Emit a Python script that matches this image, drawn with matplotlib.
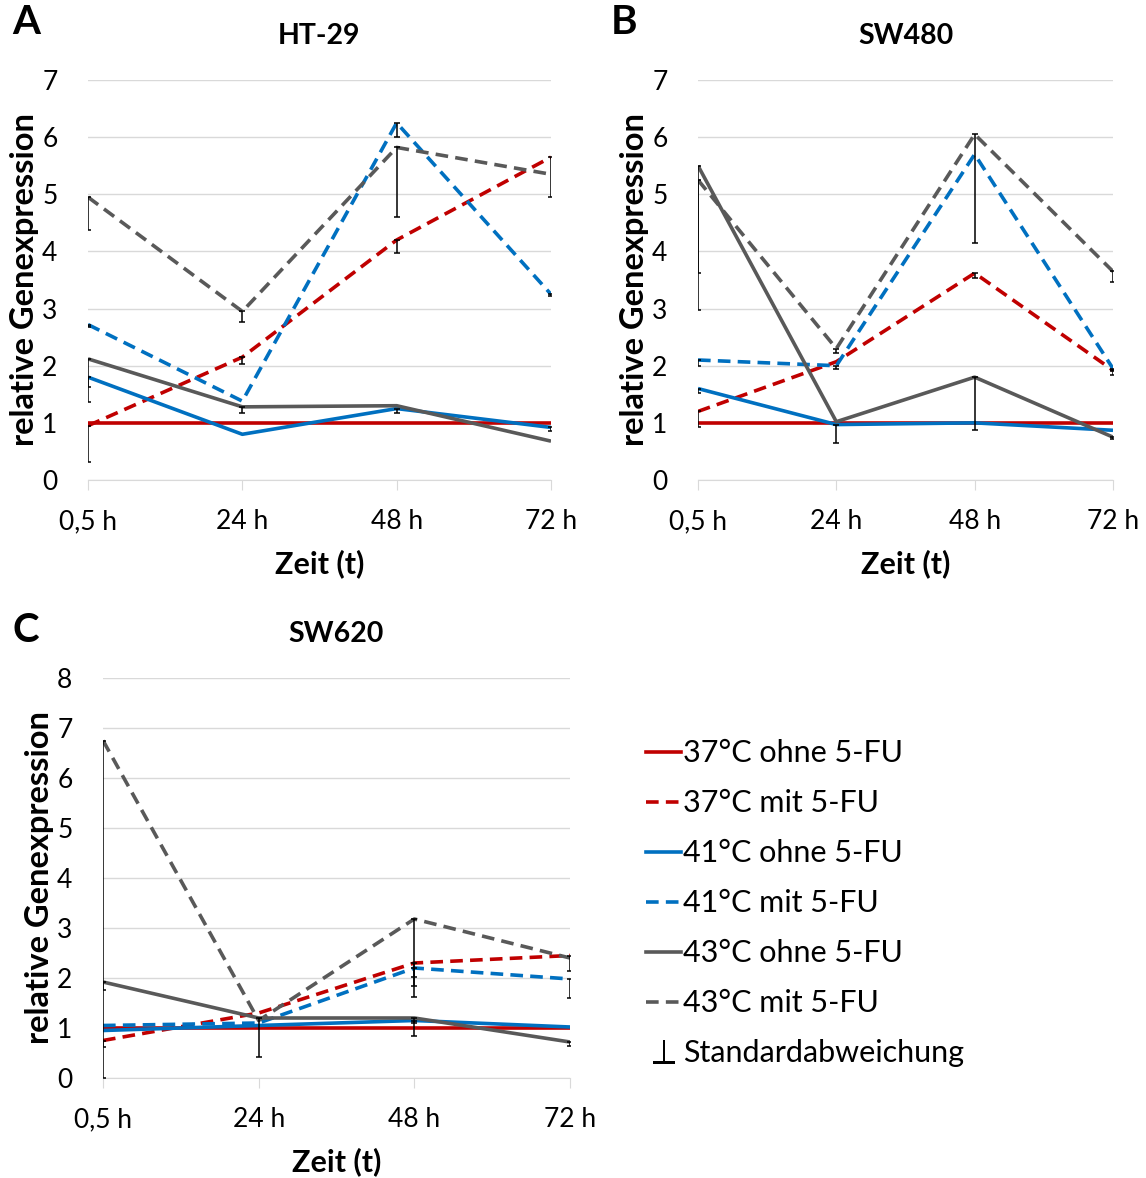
import matplotlib
matplotlib.use("Agg")
import matplotlib.pyplot as plt
from matplotlib.lines import Line2D
import numpy as np

plt.rcParams['font.family'] = ['Lato', 'DejaVu Sans']

zeiten = ['0,5 h', '24 h', '48 h', '72 h']
serien = ['37°C ohne 5-FU', '37°C mit 5-FU', '41°C ohne 5-FU',
          '41°C mit 5-FU', '43°C ohne 5-FU', '43°C mit 5-FU']

# HT-29
ht29 = [
    [1.0, 1.0, 1.0, 1.0],
    [0.95, 2.15, 4.2, 5.65],
    [1.8, 0.8, 1.25, 0.92],
    [2.72, 1.38, 6.25, 3.25],
    [2.12, 1.28, 1.3, 0.68],
    [4.95, 2.95, 5.82, 5.35],
]
ht29_sd = [
    [0, 0, 0, 0],
    [0.63, 0.12, 0.23, 0.7],
    [0.17, 0, 0.08, 0.07],
    [0.05, 0, 0.25, 0.03],
    [0.75, 0.11, 0, 0],
    [0.57, 0.18, 1.22, 0],
]

# SW480
sw480 = [
    [1.0, 1.0, 1.0, 1.0],
    [1.2, 2.07, 3.62, 1.92],
    [1.6, 0.97, 1.0, 0.87],
    [2.1, 2.0, 5.7, 1.95],
    [5.5, 1.02, 1.8, 0.75],
    [5.25, 2.3, 6.05, 3.65],
]
sw480_sd = [
    [0, 0, 0, 0],
    [0.27, 0, 0.08, 0.08],
    [0.08, 0.32, 0, 0],
    [0.1, 0.05, 0, 0.05],
    [1.88, 0, 0.92, 0.03],
    [2.28, 0.08, 1.9, 0.18],
]

# SW620
sw620 = [
    [1.0, 1.0, 1.0, 1.0],
    [0.75, 1.3, 2.3, 2.45],
    [0.95, 1.05, 1.15, 1.02],
    [1.05, 1.1, 2.2, 1.98],
    [1.92, 1.2, 1.2, 0.72],
    [6.75, 1.15, 3.18, 2.4],
]
sw620_sd = [
    [0, 0, 0, 0],
    [0.12, 0, 0.27, 0.3],
    [0, 0, 0.3, 0],
    [0, 0, 0.35, 0.38],
    [0.16, 0.77, 0.1, 0.07],
    [6.75, 0, 1.55, 0],
]

farben = ['#C00000', '#C00000', '#0070C0', '#0070C0', '#595959', '#595959']
stile = ['-', (0, (3.5, 2)), '-', (0, (3.5, 2)), '-', (0, (3.5, 2))]

W, H = 1146, 1178
fig = plt.figure(figsize=(W / 100, H / 100), dpi=100)


def px_axes(x0, x1, y_top, y_bot):
    return fig.add_axes([x0 / W, 1 - y_bot / H, (x1 - x0) / W, (y_bot - y_top) / H])


def panel(ax, werte, sd, titel, ymax):
    x = np.arange(len(zeiten))
    for i in range(len(serien)):
        ax.plot(x, werte[i], color=farben[i], linestyle=stile[i], lw=2.6,
                label=serien[i], zorder=2 + i, solid_capstyle='butt')
    for i in range(len(serien)):
        y = np.array(werte[i])
        e = np.array(sd[i])
        m = e > 0
        if m.any():
            ax.errorbar(x[m], y[m], yerr=[e[m], np.zeros(m.sum())], fmt='none',
                        ecolor='black', elinewidth=1.1, capsize=2.5, capthick=1.1,
                        zorder=10)
    ax.set_xlim(0, 3)
    ax.set_ylim(0, ymax)
    ax.set_yticks(range(ymax + 1))
    ax.set_xticks(x)
    ax.set_xticklabels(zeiten)
    ax.grid(axis='y', color='#D9D9D9', lw=1)
    ax.set_axisbelow(True)
    for s in ['top', 'right', 'left']:
        ax.spines[s].set_visible(False)
    ax.spines['bottom'].set_color('#D9D9D9')
    ax.tick_params(axis='y', length=0, pad=22, labelsize=19)
    ax.tick_params(axis='x', length=7, color='#D9D9D9', pad=14, labelsize=19)
    ax.set_xlabel('Zeit (t)', fontsize=22, fontweight='bold', labelpad=11)
    ax.set_ylabel('relative Genexpression', fontsize=23.5, fontweight='bold', labelpad=2)
    ax.set_title(titel, fontsize=20.5, fontweight='bold', pad=26)


axA = px_axes(88, 551, 80, 480)
panel(axA, ht29, ht29_sd, 'HT-29', 7)
axB = px_axes(698, 1113, 80, 480)
panel(axB, sw480, sw480_sd, 'SW480', 7)
axC = px_axes(103, 570, 678, 1078)
panel(axC, sw620, sw620_sd, 'SW620', 8)

fig.text(26 / W, 1 - 23 / H, 'A', fontsize=29, fontweight='bold', ha='center', va='center')
fig.text(624 / W, 1 - 23 / H, 'B', fontsize=29, fontweight='bold', ha='center', va='center')
fig.text(26 / W, 1 - 630 / H, 'C', fontsize=29, fontweight='bold', ha='center', va='center')

handles = [Line2D([], [], color=farben[i], linestyle=stile[i], lw=2.6) for i in range(6)]
handles.append(Line2D([], [], linestyle='none', marker='$\\perp$', color='black',
                      markersize=17, markeredgewidth=0))
labels = serien + ['Standardabweichung']
fig.legend(handles, labels, loc='upper left', bbox_to_anchor=(634 / W, 1 - 727 / H),
           frameon=False, fontsize=22, handlelength=1.15, handletextpad=0.06,
           labelspacing=0.72, borderaxespad=0)

fig.savefig('out.png', dpi=100)
